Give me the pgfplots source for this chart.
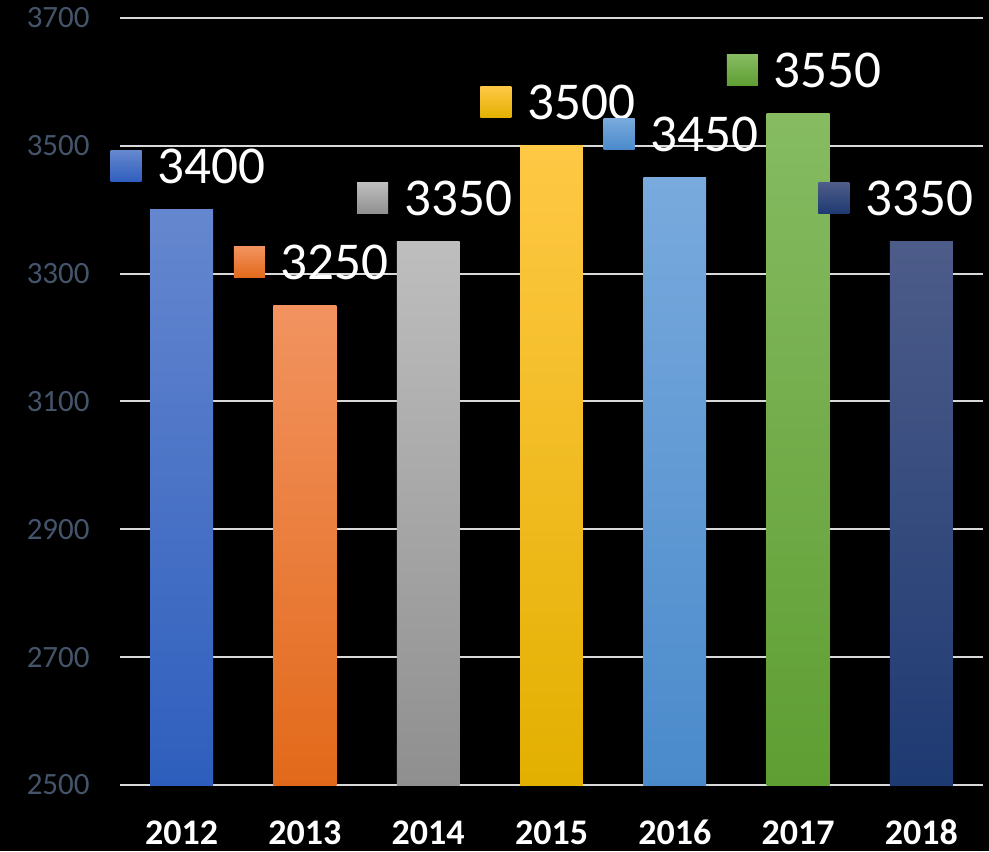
\documentclass[border=0pt]{standalone}
\usepackage{pgfplots}
\pgfplotsset{compat=1.18}
\usepackage{fontspec}
\setmainfont{Carlito}
\definecolor{ytl}{HTML}{44546A}
\definecolor{gridc}{HTML}{D9D9D9}
\definecolor{aT}{HTML}{6587CF}\definecolor{aB}{HTML}{2E5EBD}
\definecolor{bT}{HTML}{F29360}\definecolor{bB}{HTML}{E2691A}
\definecolor{cT}{HTML}{BEBEBE}\definecolor{cB}{HTML}{8F8F8F}
\definecolor{dT}{HTML}{FFC845}\definecolor{dB}{HTML}{E2B000}
\definecolor{eT}{HTML}{79AADD}\definecolor{eB}{HTML}{4A8ACB}
\definecolor{fT}{HTML}{86BB62}\definecolor{fB}{HTML}{5E9E32}
\definecolor{gT}{HTML}{4D5C89}\definecolor{gB}{HTML}{1E3A72}
\newsavebox\sqa\newsavebox\sqb\newsavebox\sqc\newsavebox\sqd
\newsavebox\sqe\newsavebox\sqf\newsavebox\sqg
\newcommand{\mksq}[3]{\sbox#1{\tikz\shade[top color=#2,bottom color=#3] (0,0) rectangle (15.5pt,15.5pt);}}
\pgfplotsset{
  mybar/.style n args={3}{draw=none, top color=#1, bottom color=#2, bar shift=0pt,
    nodes near coords={\raisebox{1pt}{\usebox#3}\hspace{8pt}\pgfmathprintnumber{\pgfplotspointmeta}}},
}
\begin{document}
\mksq{\sqa}{aT}{aB}\mksq{\sqb}{bT}{bB}\mksq{\sqc}{cT}{cB}\mksq{\sqd}{dT}{dB}%
\mksq{\sqe}{eT}{eB}\mksq{\sqf}{fT}{fB}\mksq{\sqg}{gT}{gB}%
\begin{tikzpicture}
\fill[black] (-60pt,-33pt) rectangle (434.5pt,392.5pt);
\begin{axis}[
  at={(0,0)}, anchor=south west,
  scale only axis, width=431.5pt, height=383.5pt,
  ybar, bar width=0.51,
  xmin=-0.5, xmax=6.5, ymin=2500, ymax=3700,
  ytick={2500,2700,...,3700},
  xtick={0,1,2,3,4,5,6},
  xticklabels={2012,2013,2014,2015,2016,2017,2018},
  axis line style={draw=none},
  major tick length=0pt,
  ymajorgrids, grid style={gridc, line width=1pt},
  /pgf/number format/assume math mode=true,
  /pgf/number format/1000 sep={},
  yticklabel style={font=\fontsize{15.5pt}{18pt}\selectfont, text=ytl, anchor=east, inner sep=0pt, xshift=-15pt},
  xticklabel style={font=\fontsize{18pt}{21pt}\selectfont\bfseries, text=white, anchor=base, inner sep=0pt, yshift=-29.5pt},
  every node near coord/.append style={font=\fontsize{26.6pt}{30pt}\selectfont, text=white, anchor=base west, inner sep=0pt, xshift=-35.75pt, yshift=13pt},
  clip=false,
]
\addplot[mybar={aT}{aB}{\sqa}] coordinates {(0,3400)};
\addplot[mybar={bT}{bB}{\sqb}] coordinates {(1,3250)};
\addplot[mybar={cT}{cB}{\sqc}] coordinates {(2,3350)};
\addplot[mybar={dT}{dB}{\sqd}] coordinates {(3,3500)};
\addplot[mybar={eT}{eB}{\sqe}] coordinates {(4,3450)};
\addplot[mybar={fT}{fB}{\sqf}] coordinates {(5,3550)};
\addplot[mybar={gT}{gB}{\sqg}, every node near coord/.append style={xshift=-16pt}] coordinates {(6,3350)};
\end{axis}
\end{tikzpicture}
\end{document}
